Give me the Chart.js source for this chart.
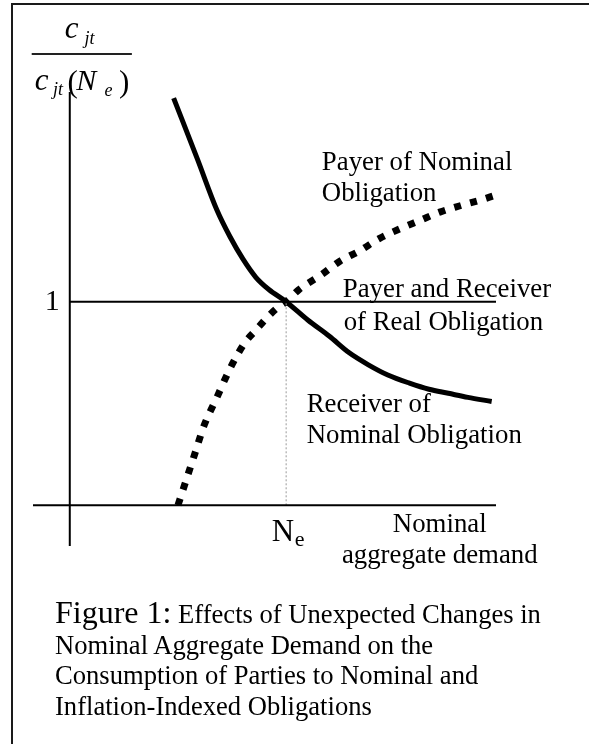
<!DOCTYPE html>
<html><head><meta charset="utf-8">
<script src="https://cdn.jsdelivr.net/npm/chart.js@4/dist/chart.umd.min.js"></script>
<style>
html,body{margin:0;padding:0;background:#fff;width:589px;height:744px;overflow:hidden;}
#frame{position:absolute;left:11px;top:3px;width:700px;height:900px;border-left:2px solid #1a1a1a;border-top:2px solid #1a1a1a;}
#c{position:absolute;left:0;top:0;}
#cap{position:absolute;left:55px;top:597px;font-family:'Liberation Serif','Times New Roman',serif;font-size:26.6px;line-height:30.5px;color:#000;white-space:nowrap;}
#cap .fig{font-size:32px;}
</style></head><body>
<div id="frame"></div>
<canvas id="c" width="589" height="600"></canvas>
<div id="cap"></div>
<script>
// ---- data (x: nominal aggregate demand relative to N_e, y: c_jt / c_jt(N_e)) ----
const receiverX = [0.48,0.59,0.68,0.74,0.80,0.86,0.92,1.00,1.10,1.20,1.29,1.38,1.47,1.57,1.66,1.75,1.84,1.95];
const receiverY = [2.00,1.70,1.45,1.32,1.21,1.12,1.06,1.00,0.91,0.83,0.75,0.69,0.64,0.60,0.57,0.55,0.53,0.51];
const payerX = [0.50,0.54,0.58,0.62,0.68,0.74,0.81,0.86,0.91,0.96,1.00,1.06,1.16,1.25,1.34,1.43,1.53,1.62,1.71,1.80,1.90,1.96];
const payerY = [0.00,0.13,0.26,0.39,0.53,0.67,0.80,0.86,0.92,0.97,1.00,1.06,1.13,1.20,1.25,1.31,1.36,1.40,1.44,1.47,1.50,1.52];
const realX = [0.00,1.97];
const realY = [1.00,1.00];
const neValue = 1;
const yTickLabels = ['1'];
const xTickLabel = ['N','e'];
const payerLabel = ['Payer of Nominal','Obligation'];
const realLabel = ['Payer and Receiver','of Real Obligation'];
const receiverLabel = ['Receiver of','Nominal Obligation'];
const xTitle = ['Nominal','aggregate demand'];
const captionLead = 'Figure 1:';
const captionLines = ['Effects of Unexpected Changes in','Nominal Aggregate Demand on the','Consumption of Parties to Nominal and','Inflation-Indexed Obligations'];

const pts = (xs, ys) => xs.map((x, i) => ({x, y: ys[i]}));
const X_MIN = -0.17, X_MAX = 1.97, Y_MIN = -0.2, Y_MAX = 2.03;

const SERIF = '"Liberation Serif","Times New Roman",serif';
const LS = 26.8;
const textItems = [
  {t: payerLabel[0], x: 1.165, y: 1.647, size: LS, align: 'left'},
  {t: payerLabel[1], x: 1.165, y: 1.496, size: LS, align: 'left'},
  {t: realLabel[0], x: 1.262, y: 1.023, size: LS, align: 'left'},
  {t: realLabel[1], x: 1.266, y: 0.861, size: LS, align: 'left'},
  {t: receiverLabel[0], x: 1.095, y: 0.458, size: LS, align: 'left'},
  {t: receiverLabel[1], x: 1.095, y: 0.306, size: LS, align: 'left'},
  {t: xTitle[0], x: 1.710, y: -0.131, size: LS, align: 'center'},
  {t: xTitle[1], x: 1.710, y: -0.283, size: LS, align: 'center'},
  {t: yTickLabels[0], x: -0.046, y: 0.959, size: 30, align: 'right'},
  {t: xTickLabel[0], x: 0.933, y: -0.174, size: 31, align: 'left'},
  {t: xTickLabel[1], x: 1.040, y: -0.201, size: 22, align: 'left'}
];
// y-axis title: c_jt / c_jt(N_e)
const yTitleItems = [
  {t: 'c', x: -0.023, y: 2.295, size: 31, italic: true},
  {t: 'jt', x: 0.068, y: 2.266, size: 18, italic: true},
  {t: 'c', x: -0.162, y: 2.040, size: 31, italic: true},
  {t: 'jt', x: -0.078, y: 2.015, size: 18, italic: true},
  {t: '(', x: -0.010, y: 2.030, size: 31, italic: false},
  {t: 'N', x: 0.030, y: 2.040, size: 30, italic: true},
  {t: 'e', x: 0.160, y: 2.010, size: 18, italic: true},
  {t: ')', x: 0.228, y: 2.030, size: 31, italic: false}
];
const fractionBar = {x1: -0.176, x2: 0.287, y: 2.217};

const labelPlugin = {
  id: 'labels',
  afterDraw(chart) {
    const ctx = chart.ctx, xs = chart.scales.x, ys = chart.scales.y;
    ctx.save();
    ctx.fillStyle = '#000';
    ctx.textBaseline = 'alphabetic';
    textItems.forEach(it => {
      ctx.font = `${it.size}px ${SERIF}`;
      ctx.textAlign = it.align;
      ctx.fillText(it.t, xs.getPixelForValue(it.x), ys.getPixelForValue(it.y));
    });
    ctx.textAlign = 'left';
    yTitleItems.forEach(it => {
      ctx.font = `${it.italic ? 'italic ' : ''}${it.size}px ${SERIF}`;
      ctx.fillText(it.t, xs.getPixelForValue(it.x), ys.getPixelForValue(it.y));
    });
    ctx.strokeStyle = '#222';
    ctx.lineWidth = 2;
    ctx.beginPath();
    const by = Math.round(ys.getPixelForValue(fractionBar.y));
    ctx.moveTo(xs.getPixelForValue(fractionBar.x1), by);
    ctx.lineTo(xs.getPixelForValue(fractionBar.x2), by);
    ctx.stroke();
    ctx.restore();
  }
};

const base = {pointRadius: 0, fill: false, clip: false, tension: 0};
new Chart(document.getElementById('c'), {
  type: 'line',
  data: {
    datasets: [
      {...base, label: 'x-axis', data: pts([X_MIN, X_MAX], [0, 0]), borderColor: '#000', borderWidth: 2},
      {...base, label: 'y-axis', data: pts([0, 0], [Y_MIN, Y_MAX]), borderColor: '#000', borderWidth: 2},
      {...base, label: 'Payer and Receiver of Real Obligation', data: pts(realX, realY), borderColor: '#000', borderWidth: 2},
      {...base, label: 'N_e', data: pts([neValue, neValue], [0, 1]), borderColor: '#9a9a9a', borderWidth: 1, borderDash: [2, 2]},
      {...base, label: 'Receiver of Nominal Obligation', data: pts(receiverX, receiverY), borderColor: '#000', borderWidth: 5, cubicInterpolationMode: 'monotone', borderCapStyle: 'butt'},
      {...base, label: 'Payer of Nominal Obligation', data: pts(payerX, payerY), borderColor: '#000', borderWidth: 7, borderDash: [7, 9.5], cubicInterpolationMode: 'monotone', borderCapStyle: 'butt'}
    ]
  },
  options: {
    responsive: false,
    maintainAspectRatio: false,
    animation: false,
    events: [],
    layout: {padding: {left: 33, right: 93, top: 92, bottom: 54}},
    plugins: {legend: {display: false}, tooltip: {enabled: false}, title: {display: false}},
    scales: {
      x: {type: 'linear', min: X_MIN, max: X_MAX, display: false},
      y: {type: 'linear', min: Y_MIN, max: Y_MAX, display: false}
    }
  },
  plugins: [labelPlugin]
});

const cap = document.getElementById('cap');
const fig = document.createElement('span');
fig.className = 'fig';
fig.textContent = captionLead;
cap.appendChild(fig);
cap.appendChild(document.createTextNode(' ' + captionLines[0]));
captionLines.slice(1).forEach(l => {
  cap.appendChild(document.createElement('br'));
  cap.appendChild(document.createTextNode(l));
});
</script>
</body></html>
